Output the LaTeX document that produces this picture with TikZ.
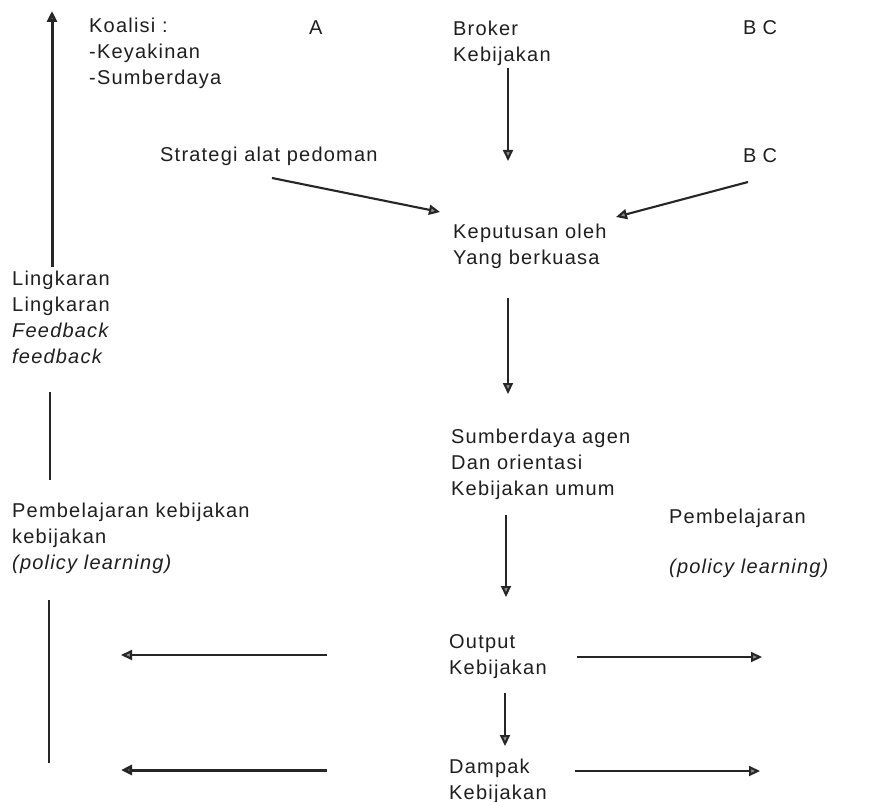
\documentclass[tikz,border=0pt]{standalone}
\usepackage{fontspec}
\setmainfont{Liberation Sans}[LetterSpace=6]
\usetikzlibrary{arrows.meta}

\begin{document}
\begin{tikzpicture}[x=1pt,y=-1pt,
  % multi-line labels are placed by the baseline of their last line
  lbl/.style={anchor=base west, inner sep=0pt, align=left, text=black!88,
              font=\fontsize{20}{26}\selectfont},
  flow/.style={draw=black!85, line width=2.1pt,
               -{Triangle[length=11pt,width=10pt,fill=black!45]}},
  heavy/.style={flow, line width=3pt},
  plain/.style={draw=black!85, line width=1.8pt}]

  % page
  \fill[white] (0,0) rectangle (877,802);
  \useasboundingbox (0,0) rectangle (877,802);

  % labels
  \node[lbl] (koalisi) at (89,85) {Koalisi :\\-Keyakinan\\-Sumberdaya};
  \node[lbl] (a) at (309,35) {A};
  \node[lbl] (broker) at (453,62) {Broker\\Kebijakan};
  \node[lbl] (bc1) at (743,35) {B\hspace{6pt}C};
  \node[lbl] (strategi) at (160,162) {Strategi alat pedoman};
  \node[lbl] (bc2) at (743,163) {B\hspace{6pt}C};
  \node[lbl] (keputusan) at (453,264) {Keputusan oleh\\Yang berkuasa};
  \node[lbl] (lingkaran) at (12,363) {Lingkaran\\Lingkaran\\\textit{Feedback}\\\textit{feedback}};
  \node[lbl] (sumberdaya) at (451,495) {Sumberdaya agen\\Dan orientasi\\Kebijakan umum};
  \node[lbl] (belajarL) at (12,569) {Pembelajaran kebijakan\\kebijakan\\\textit{(policy learning)}};
  \node[lbl] (belajarR) at (669,523) {Pembelajaran};
  \node[lbl] (policyR) at (669,573) {\textit{(policy learning)}};
  \node[lbl] (output) at (449,674) {Output\\Kebijakan};
  \node[lbl] (dampak) at (449,799) {Dampak\\Kebijakan};

  % connector end points
  \coordinate (fbTop) at (52,11);
  \coordinate (fbBot) at (52,267);
  \coordinate (l1a) at (50,392);
  \coordinate (l1b) at (50,480);
  \coordinate (l2a) at (49,600);
  \coordinate (l2b) at (49,763);
  \coordinate (brA) at (508,68);
  \coordinate (brB) at (508,161);
  \coordinate (stA) at (272,178);
  \coordinate (stB) at (440,212);
  \coordinate (bcA) at (748,182);
  \coordinate (bcB) at (616,217);
  \coordinate (kpA) at (508,298);
  \coordinate (kpB) at (508,394);
  \coordinate (sdA) at (506,515);
  \coordinate (sdB) at (506,597);
  \coordinate (opA) at (505,693);
  \coordinate (opB) at (505,746);
  \coordinate (opRa) at (577,657);
  \coordinate (opRb) at (762,657);
  \coordinate (opLa) at (327,655);
  \coordinate (opLb) at (121,655);
  \coordinate (dpRa) at (575,771);
  \coordinate (dpRb) at (760,771);
  \coordinate (dpLa) at (327,770);
  \coordinate (dpLb) at (121,770);

  % feedback loop on the left
  \draw[heavy] (fbBot) -- (fbTop);
  \draw[plain] (l1a) -- (l1b);
  \draw[plain] (l2a) -- (l2b);

  % main flow
  \draw[flow] (brA) -- (brB);
  \draw[flow] (stA) -- (stB);
  \draw[flow] (bcA) -- (bcB);
  \draw[flow] (kpA) -- (kpB);
  \draw[flow] (sdA) -- (sdB);
  \draw[flow] (opA) -- (opB);

  % side outputs
  \draw[flow] (opRa) -- (opRb);
  \draw[flow] (opLa) -- (opLb);
  \draw[flow] (dpRa) -- (dpRb);
  \draw[heavy] (dpLa) -- (dpLb);
\end{tikzpicture}
\end{document}
